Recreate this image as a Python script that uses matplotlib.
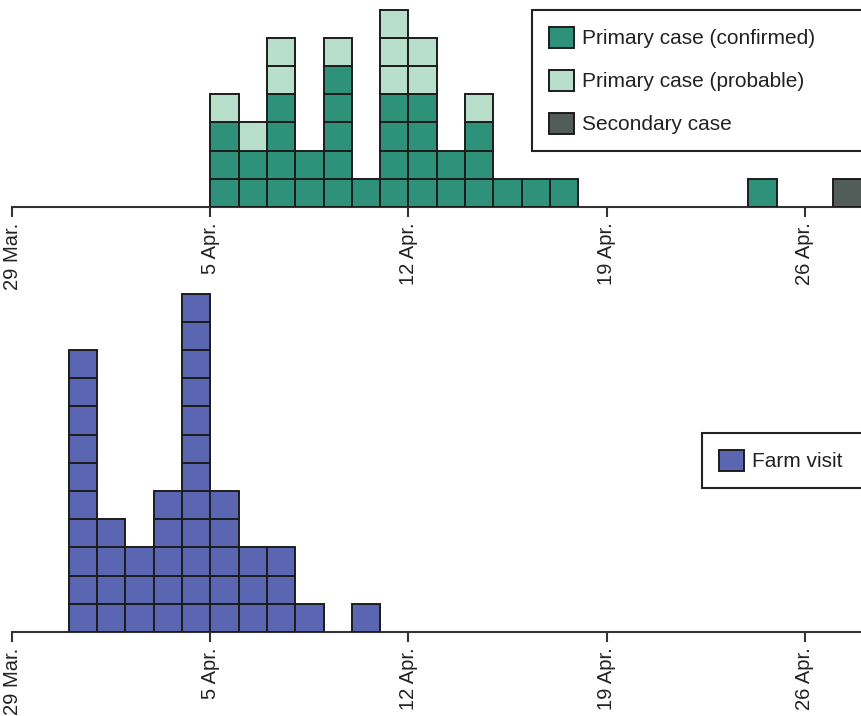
import matplotlib
matplotlib.use('Agg')
import matplotlib.pyplot as plt
import matplotlib.dates as mdates
from matplotlib.patches import Patch
import pandas as pd

plt.rcParams['font.family'] = ['Liberation Sans', 'DejaVu Sans']

# onset of illness (top) and farm visit dates (bottom)
onset_dates = ['2011-04-05', '2011-04-06', '2011-04-07', '2011-04-08', '2011-04-09',
               '2011-04-10', '2011-04-11', '2011-04-12', '2011-04-13', '2011-04-14',
               '2011-04-15', '2011-04-16', '2011-04-17', '2011-04-24', '2011-04-27']
confirmed = [3, 2, 4, 2, 5, 1, 4, 4, 2, 3, 1, 1, 1, 1, 0]
probable = [1, 1, 2, 0, 1, 0, 3, 2, 0, 1, 0, 0, 0, 0, 0]
secondary = [0, 0, 0, 0, 0, 0, 0, 0, 0, 0, 0, 0, 0, 0, 1]

farm_dates = ['2011-03-31', '2011-04-01', '2011-04-02', '2011-04-03', '2011-04-04',
              '2011-04-05', '2011-04-06', '2011-04-07', '2011-04-08', '2011-04-09',
              '2011-04-10']
farm_visit = [10, 4, 3, 5, 12, 5, 3, 3, 1, 0, 1]

tick_dates = ['2011-03-29', '2011-04-05', '2011-04-12', '2011-04-19', '2011-04-26']
tick_labels = ['29 Mar.', '5 Apr.', '12 Apr.', '19 Apr.', '26 Apr.']

c_conf = '#2e927a'
c_prob = '#b8dfcb'
c_sec = '#525c59'
c_farm = '#5a66b2'
edge = '#1c1c1c'

W, H = 861, 716
px_day = 28.32
px_box = 28.2
fs = 15

fig = plt.figure(figsize=(W / 100, H / 100), dpi=100)

x0 = mdates.date2num(pd.Timestamp(tick_dates[0]))
ax_w = (W - 12) / px_day

def stack(ax, dates, series):
    xs = mdates.date2num(pd.to_datetime(dates))
    base = [0] * len(xs)
    for vals, col in series:
        for i, x in enumerate(xs):
            for k in range(vals[i]):
                ax.bar(x, 1, width=1, bottom=base[i] + k, align='edge',
                       color=col, edgecolor=edge, linewidth=1.4, zorder=3)
            base[i] += vals[i]

def style(ax):
    ax.patch.set_visible(False)
    for s in ['top', 'right', 'left']:
        ax.spines[s].set_visible(False)
    ax.spines['bottom'].set_color('#333333')
    ax.spines['bottom'].set_linewidth(1.5)
    ax.set_yticks([])
    ax.set_xlim(x0, x0 + ax_w)
    ax.set_xticks(mdates.date2num(pd.to_datetime(tick_dates)))
    ax.set_xticklabels(tick_labels, rotation=90, fontsize=14.5, color='#222222')
    ax.tick_params(axis='x', length=7, width=1.5, color='#333333', pad=4)

ax1 = fig.add_axes([12 / W, (H - 207) / H, (W - 12) / W, 207 / H])
stack(ax1, onset_dates, [(confirmed, c_conf), (probable, c_prob), (secondary, c_sec)])
ax1.set_ylim(0, 207 / px_box)
style(ax1)

ax2 = fig.add_axes([12 / W, (H - 632) / H, (W - 12) / W, 352 / H])
stack(ax2, farm_dates, [(farm_visit, c_farm)])
ax2.set_ylim(0, 352 / px_box)
style(ax2)

leg_kw = dict(loc='upper left', mode='expand', borderaxespad=0, fontsize=fs,
              handlelength=1.2, handleheight=1.2, handletextpad=0.4,
              borderpad=0.8, labelspacing=1.02, fancybox=False, framealpha=1,
              edgecolor='#222222')

h1 = [Patch(facecolor=c_conf, edgecolor=edge, linewidth=1.4, label='Primary case (confirmed)'),
      Patch(facecolor=c_prob, edgecolor=edge, linewidth=1.4, label='Primary case (probable)'),
      Patch(facecolor=c_sec, edgecolor=edge, linewidth=1.4, label='Secondary case')]
lg1 = fig.legend(handles=h1, bbox_to_anchor=(532 / W, 1 - 10 / H, 0.5, 0), **leg_kw)
lg1.get_frame().set_linewidth(1.5)
for t in lg1.get_texts():
    t.set_color('#222222')

h2 = [Patch(facecolor=c_farm, edgecolor=edge, linewidth=1.4, label='Farm visit')]
lg2 = fig.legend(handles=h2, bbox_to_anchor=(702 / W, 1 - 433 / H, 0.5, 0), **leg_kw)
lg2.get_frame().set_linewidth(1.5)
for t in lg2.get_texts():
    t.set_color('#222222')

fig.savefig('out.png', dpi=100)
